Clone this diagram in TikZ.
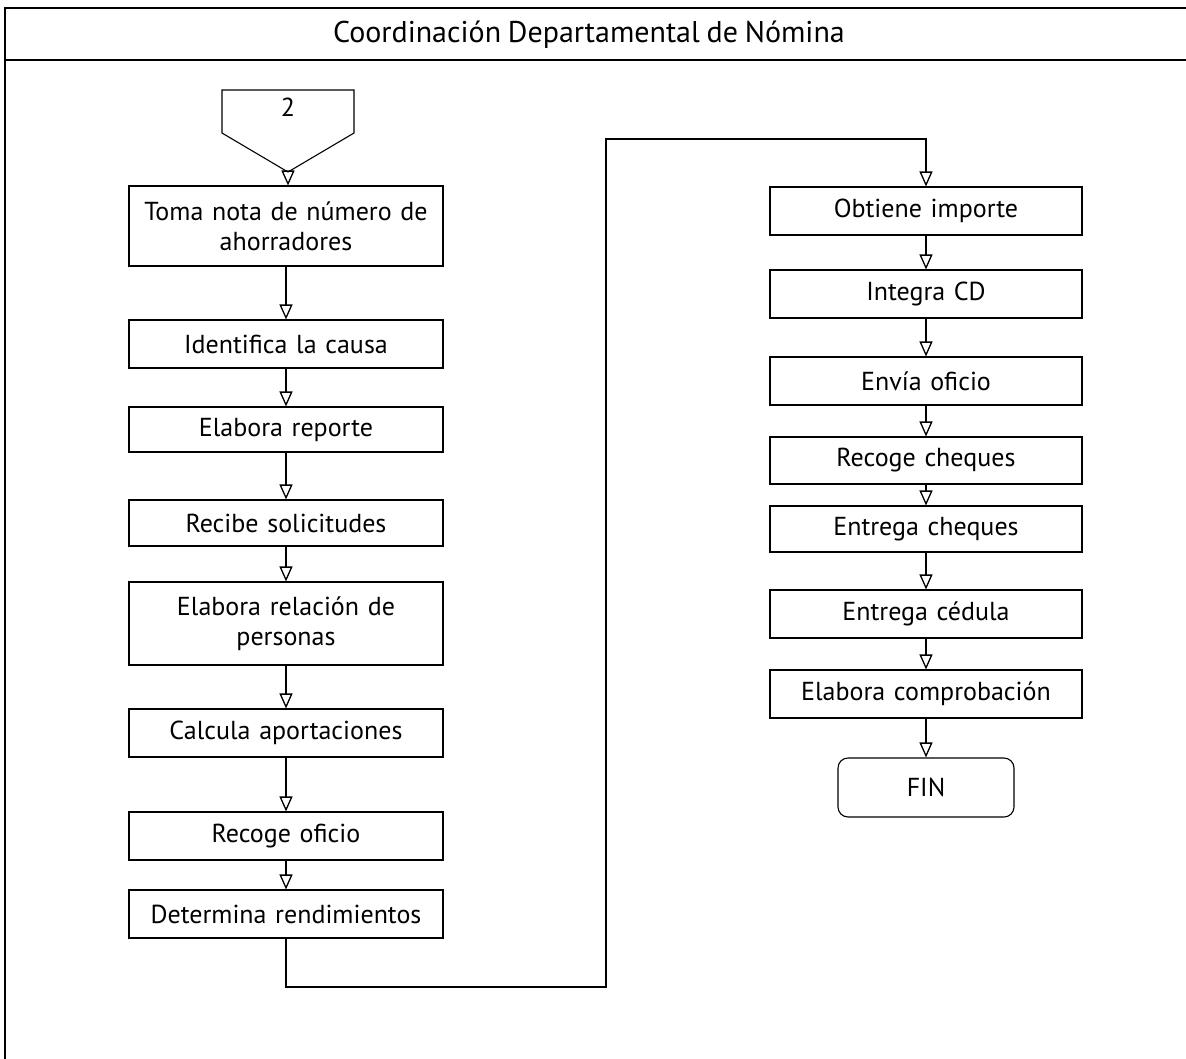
\documentclass[tikz,border=0pt]{standalone}
\usepackage{fontspec}
\setmainfont[WordSpace=0.85]{PT Sans}
\usetikzlibrary{arrows.meta}
\begin{document}
\begin{tikzpicture}[x=1pt,y=-1pt,
  every node/.style={font=\fontsize{26}{30}\selectfont},
  proc/.style={draw, line width=1.1pt, rectangle, minimum width=314pt, text width=310pt, align=center, inner sep=0pt},
  one/.style={proc, minimum height=48pt},
  two/.style={proc, minimum height=80pt},
  flow/.style={draw, line width=1.1pt, -{Triangle[open, length=15pt, width=13pt, line width=1.3pt]}},
  frame/.style={line width=1.1pt}
]
\useasboundingbox (0,0) rectangle (1186,1058);
% frame
\draw[frame] (1186,8) -- (5,8) -- (5,1060);
\draw[frame] (5,60) -- (1186,60);
\node[font=\fontsize{30}{32}\selectfont] (title) at (589,35) {Coordinación Departamental de Nómina};

% off-page connector
\node (c2) at (288,107) {2};
\draw[line width=1.1pt] (222,90) -- (354,90) -- (354,133) -- (288,172) -- (222,133) -- cycle;
\coordinate (c2tip) at (288,172);

% left column
\node[two] (b1) at (286,226) {Toma nota de número de\\ahorradores};
\node[one] (b2) at (286,344) {Identifica la causa};
\node[one, minimum height=45pt] (b3) at (286,429.5) {Elabora reporte};
\node[one, minimum height=46pt] (b4) at (286,523) {Recibe solicitudes};
\node[two, minimum height=83pt] (b5) at (286,623.5) {Elabora relación de\\personas};
\node[one] (b6) at (286,733) {Calcula aportaciones};
\node[one] (b7) at (286,836) {Recoge oficio};
\node[one] (b8) at (286,914) {Determina rendimientos};

% right column
\node[one, minimum width=312pt] (r1) at (926,211) {Obtiene importe};
\node[one, minimum width=312pt] (r2) at (926,294) {Integra CD};
\node[one, minimum width=312pt] (r3) at (926,381) {Envía oficio};
\node[one, minimum width=312pt, minimum height=47pt] (r4) at (926,460.5) {Recoge cheques};
\node[one, minimum width=312pt, minimum height=46pt] (r5) at (926,529) {Entrega cheques};
\node[one, minimum width=312pt] (r6) at (926,614) {Entrega cédula};
\node[one, minimum width=312pt] (r7) at (926,694) {Elabora comprobación};
\node[draw, line width=1.1pt, rounded corners=10pt, minimum width=176pt, minimum height=59pt, inner sep=0pt] (fin) at (926,787.5) {FIN};

% connectors
\draw[flow] (c2tip) -- (b1.north -| c2tip);
\draw[flow] (b1) -- (b2);
\draw[flow] (b2) -- (b3);
\draw[flow] (b3) -- (b4);
\draw[flow] (b4) -- (b5);
\draw[flow] (b5) -- (b6);
\draw[flow] (b6) -- (b7);
\draw[flow] (b7) -- (b8);
\coordinate (l1) at (286,987);
\coordinate (l2) at (606,987);
\coordinate (l3) at (606,139);
\coordinate (l4) at (926,139);
\draw[flow] (b8.south) -- (l1) -- (l2) -- (l3) -- (l4) -- (r1.north);
\draw[flow] (r1) -- (r2);
\draw[flow] (r2) -- (r3);
\draw[flow] (r3) -- (r4);
\draw[flow] (r4) -- (r5);
\draw[flow] (r5) -- (r6);
\draw[flow] (r6) -- (r7);
\draw[flow] (r7) -- (fin);
\end{tikzpicture}
\end{document}
